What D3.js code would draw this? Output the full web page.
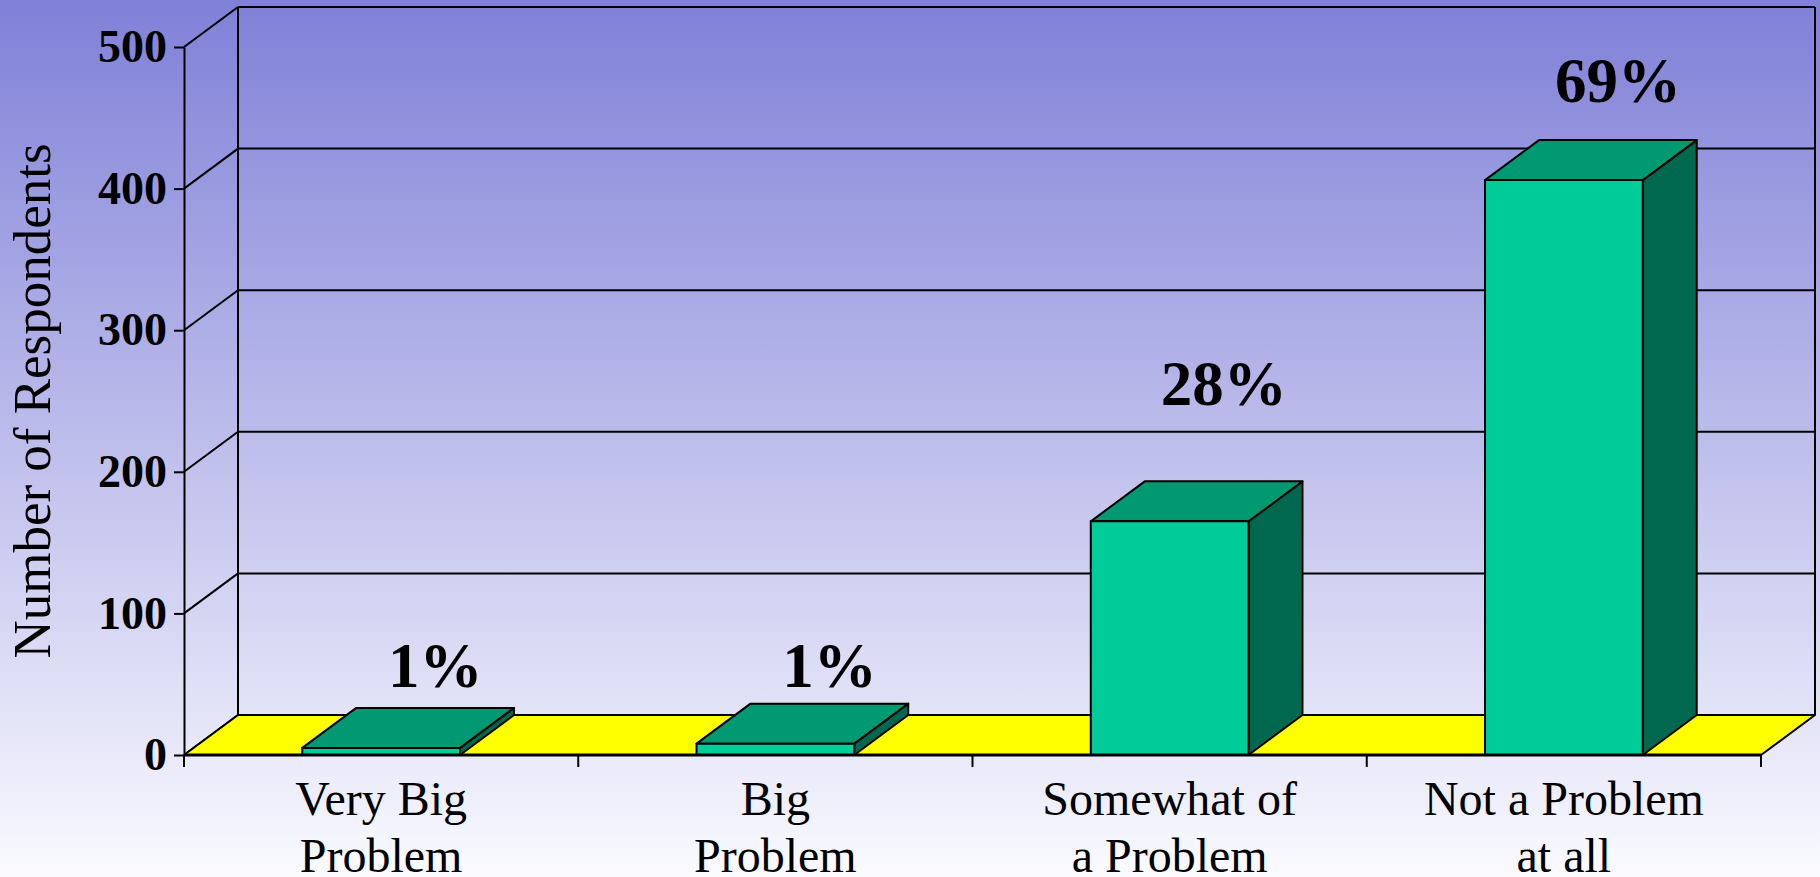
<!DOCTYPE html>
<html>
<head>
<meta charset="utf-8">
<script src="https://cdn.jsdelivr.net/npm/d3@7"></script>
<style>
  html, body { margin: 0; padding: 0; overflow: hidden; }
  svg { display: block; }
  text { font-family: "Liberation Serif", "Times New Roman", serif; fill: #000; }
</style>
</head>
<body>
<svg width="1820" height="877"></svg>
<script>
// chart data
let categories = ["Very Big Problem", "Big Problem", "Somewhat of a Problem", "Not a Problem at all"];
let categoryLines = [["Very Big", "Problem"], ["Big", "Problem"], ["Somewhat of", "a Problem"], ["Not a Problem", "at all"]];
let values = [5, 8, 165, 406];
let percents = ["1%", "1%", "28%", "69%"];
// where the percent labels sit, in respondents
let labelLevels = [48, 48, 247, 461];
let yTicks = [0, 100, 200, 300, 400, 500];

let width = 1820, height = 877;
let depthX = 54, depthY = 40;

var svg = d3.select("svg");

// background gradient
var defs = svg.append("defs");
var grad = defs.append("linearGradient")
  .attr("id", "bg").attr("x1", 0).attr("y1", 0).attr("x2", 0).attr("y2", 1);
grad.append("stop").attr("offset", "0%").attr("stop-color", "#8080d8");
grad.append("stop").attr("offset", "100%").attr("stop-color", "#fafaff");
svg.append("rect").attr("width", width).attr("height", height).attr("fill", "url(#bg)");

var y = d3.scaleLinear().domain([0, 500]).range([755, 47]);
var x = d3.scaleBand().domain(categories).range([184, 1761]).padding(0);
var bw = x.bandwidth() * 0.4;

var x0 = x.range()[0], x1 = x.range()[1];

// back wall gridlines
var walls = svg.append("g").attr("stroke", "#000").attr("stroke-width", 2).attr("fill", "none");
walls.selectAll("line.grid")
  .data(yTicks.filter(d => d > 0))
  .enter().append("line")
    .attr("class", "grid")
    .attr("x1", x0 + depthX).attr("x2", x1 + depthX)
    .attr("y1", d => y(d) - depthY).attr("y2", d => y(d) - depthY);

// back wall side edges
walls.append("line")
  .attr("x1", x0 + depthX).attr("x2", x0 + depthX)
  .attr("y1", y(500) - depthY).attr("y2", y(0) - depthY);
walls.append("line")
  .attr("x1", x1 + depthX).attr("x2", x1 + depthX)
  .attr("y1", y(500) - depthY).attr("y2", y(0) - depthY);

// left wall diagonals
walls.selectAll("line.diag")
  .data(yTicks)
  .enter().append("line")
    .attr("class", "diag")
    .attr("x1", x0).attr("y1", d => y(d))
    .attr("x2", x0 + depthX).attr("y2", d => y(d) - depthY);

// floor
var floorPts = [[x0, y(0)], [x1, y(0)], [x1 + depthX, y(0) - depthY], [x0 + depthX, y(0) - depthY]];
svg.append("polygon")
  .attr("points", floorPts.map(p => p.join(",")).join(" "))
  .attr("fill", "#ffff00")
  .attr("stroke", "#000")
  .attr("stroke-width", 2)
  .attr("stroke-linejoin", "round");

// bars
var bars = svg.append("g").selectAll("g")
  .data(categories.map((c, i) => ({ cat: c, v: values[i] })))
  .enter().append("g")
    .attr("stroke", "#000")
    .attr("stroke-width", 2)
    .attr("stroke-linejoin", "round");

function pts(a) { return a.map(p => p.join(",")).join(" "); }

bars.append("polygon")
  .attr("fill", "#00684e")
  .attr("points", function(d) {
    var l = x(d.cat) + (x.bandwidth() - bw) / 2, r = l + bw;
    return pts([[r, y(d.v)], [r + depthX, y(d.v) - depthY], [r + depthX, y(0) - depthY], [r, y(0)]]);
  });

bars.append("polygon")
  .attr("fill", "#009971")
  .attr("points", function(d) {
    var l = x(d.cat) + (x.bandwidth() - bw) / 2, r = l + bw;
    return pts([[l, y(d.v)], [r, y(d.v)], [r + depthX, y(d.v) - depthY], [l + depthX, y(d.v) - depthY]]);
  });

bars.append("rect")
  .attr("fill", "#00cc99")
  .attr("x", d => x(d.cat) + (x.bandwidth() - bw) / 2)
  .attr("y", d => y(d.v))
  .attr("width", bw)
  .attr("height", d => y(0) - y(d.v));

// y axis
var yAxis = d3.axisLeft(y).tickValues(yTicks).tickSize(10).tickSizeOuter(0).tickPadding(7);
var gy = svg.append("g").attr("transform", "translate(" + x0 + ",0)").call(yAxis);
gy.select(".domain").attr("stroke", "#000").attr("stroke-width", 2);
gy.selectAll(".tick line").attr("stroke", "#000").attr("stroke-width", 2);
gy.selectAll(".tick text")
  .style("font-family", "'Liberation Serif', 'Times New Roman', serif")
  .style("font-size", "46px")
  .style("font-weight", "bold")
  .attr("fill", "#000");

svg.append("line")
  .attr("x1", x0).attr("x2", x0)
  .attr("y1", y(0)).attr("y2", y(0) + 12)
  .attr("stroke", "#000").attr("stroke-width", 2);

// x axis line and ticks at band edges
svg.append("line")
  .attr("x1", x0).attr("x2", x1)
  .attr("y1", y(0)).attr("y2", y(0))
  .attr("stroke", "#000").attr("stroke-width", 3);

var edges = categories.map(c => x(c)).concat([x1]);
svg.append("g").selectAll("line")
  .data(edges)
  .enter().append("line")
    .attr("x1", d => d).attr("x2", d => d)
    .attr("y1", y(0)).attr("y2", y(0) + 12)
    .attr("stroke", "#000").attr("stroke-width", 2);

// category labels
var cl = svg.append("g").selectAll("text")
  .data(categories)
  .enter().append("text")
    .attr("text-anchor", "middle")
    .attr("font-size", 48)
    .attr("x", d => x(d) + x.bandwidth() / 2)
    .attr("y", 815);
cl.selectAll("tspan")
  .data((d, i) => categoryLines[i])
  .enter().append("tspan")
    .attr("x", function() { return d3.select(this.parentNode).attr("x"); })
    .attr("dy", (d, i) => i === 0 ? 0 : 57)
    .text(d => d);

// percent labels
svg.append("g").selectAll("text")
  .data(percents)
  .enter().append("text")
    .attr("text-anchor", "middle")
    .attr("font-size", 63)
    .attr("font-weight", "bold")
    .attr("x", (d, i) => x(categories[i]) + x.bandwidth() / 2 + depthX)
    .attr("y", (d, i) => y(labelLevels[i]))
    .text(d => d);

// y axis title
svg.append("text")
  .attr("transform", "translate(50,401) rotate(-90)")
  .attr("text-anchor", "middle")
  .attr("font-size", 53)
  .text("Number of Respondents");
</script>
</body>
</html>
